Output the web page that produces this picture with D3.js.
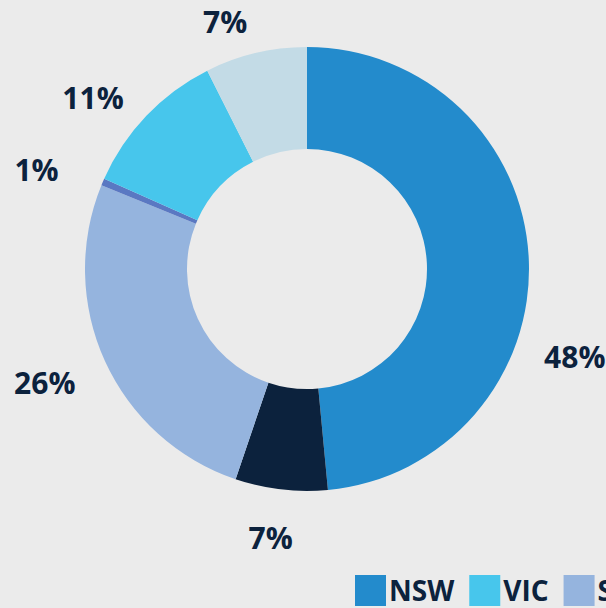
<!DOCTYPE html>
<html>
<head>
<meta charset="utf-8">
<script src="https://cdn.jsdelivr.net/npm/d3@7"></script>
<style>
  html, body { margin: 0; padding: 0; background: #ebebeb; overflow: hidden; }
  svg { display: block; font-family: "Open Sans", "Noto Sans", sans-serif; }
</style>
</head>
<body>
<div id="vis"></div>
<script>
// slice order, clockwise from 12 o'clock
const categories = ["NSW", "QLD", "SA", "WA", "VIC", "Other"];
const shares = [48.4, 6.7, 25.9, 0.5, 10.9, 7.4];
const colors = ["#238bcc", "#0c223d", "#95b4de", "#5a78c2", "#47c6ec", "#c3dbe6"];
// legend runs off the right edge in the original, only these show
const legendOrder = ["NSW", "VIC", "SA"];

let width = 606,
    height = 608,
    cx = 307, cy = 269,
    outerR = 222, innerR = 120;

// label tweaks: angle shift (deg) from slice middle and distance from centre
const labelLayout = {
    NSW: {shift: 21, r: 282},
    QLD: {shift: 1, r: 272},
    SA: {shift: 1, r: 286},
    WA: {shift: -3, r: 288},
    VIC: {shift: -5, r: 274},
    Other: {shift: -5, r: 260}
};

let color = d3.scaleOrdinal().domain(categories).range(colors);

let svg = d3.select("#vis")
    .append("svg")
    .attr("width", width)
    .attr("height", height);

svg.append("rect")
    .attr("width", width)
    .attr("height", height)
    .attr("fill", "#ebebeb");

let data = categories.map((c, i) => ({name: c, value: shares[i]}));

let pie = d3.pie().sort(null).value(d => d.value);
let arc = d3.arc().innerRadius(innerR).outerRadius(outerR);

let g = svg.append("g")
    .attr("transform", "translate(" + cx + "," + cy + ")");

let arcs = pie(data);

g.selectAll("path")
    .data(arcs)
    .enter()
    .append("path")
    .attr("d", arc)
    .attr("fill", d => color(d.data.name));

////////// labels //////////

g.selectAll("text.label")
    .data(arcs)
    .enter()
    .append("text")
    .attr("class", "label")
    .attr("transform", d => {
        let lay = labelLayout[d.data.name];
        let a = (d.startAngle + d.endAngle) / 2 + lay.shift * Math.PI / 180;
        return "translate(" + (Math.sin(a) * lay.r) + "," + (-Math.cos(a) * lay.r) + ")";
    })
    .attr("text-anchor", "middle")
    .attr("dy", "0.36em")
    .attr("font-size", 30)
    .attr("font-weight", 700)
    .attr("fill", "#0c223d")
    .text(d => Math.round(d.data.value) + "%");

////////// legend //////////

let legend = svg.append("g")
    .attr("transform", "translate(355,575)");

let lx = 0;
legendOrder.forEach(name => {
    let item = legend.append("g").attr("transform", "translate(" + lx + ",0)");
    item.append("rect")
        .attr("width", 31)
        .attr("height", 31)
        .attr("fill", color(name));
    let t = item.append("text")
        .attr("x", 34)
        .attr("y", 26)
        .attr("font-size", 28)
        .attr("font-weight", 700)
        .attr("fill", "#0c223d")
        .text(name);
    lx += 34 + t.node().getComputedTextLength() + 15;
});
</script>
</body>
</html>
